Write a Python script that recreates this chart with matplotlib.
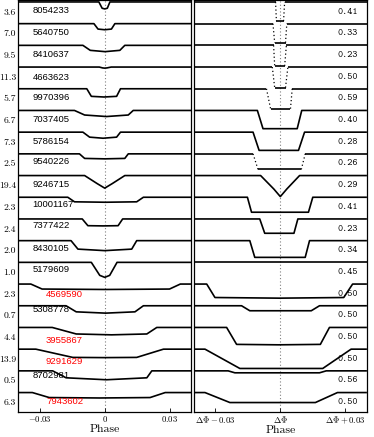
import matplotlib.pyplot as plt

plt.rcParams['mathtext.fontset'] = 'cm'

# KIC ids, orbital periods (d) and secondary eclipse phase
kic = ['8054233', '5640750', '8410637', '4663623', '9970396', '7037405', '5786154',
       '9540226', '9246715', '10001167', '7377422', '8430105', '5179609', '4569590',
       '5308778', '3955867', '9291629', '8702981', '7943602']
period = ['3.6', '7.0', '9.5', '11.3', '5.7', '6.7', '7.3', '2.5', '19.4', '2.3',
          '2.4', '2.0', '1.0', '2.3', '0.7', '4.4', '13.9', '0.5', '6.3']
sec_phase = ['0.41', '0.33', '0.23', '0.50', '0.59', '0.40', '0.28', '0.26', '0.29', '0.41',
             '0.23', '0.34', '0.45', '0.50', '0.50', '0.50', '0.50', '0.56', '0.50']
highlight = ['4569590', '3955867', '9291629', '7943602']

# primary eclipse: contact points (phase) and depth (in units of row spacing)
p_t1 = [-0.0027, -0.0050, -0.0101, -0.0025, -0.0083, -0.0140, -0.0101, -0.0117, -0.0093, -0.0171,
        -0.0104, -0.0156, -0.0062, -0.0342, -0.0179, -0.0243, -0.0319, -0.0241, -0.0335]
p_t2 = [-0.0012, -0.0031, -0.0067, -0.0010, -0.0062, -0.0093, -0.0070, -0.0093, -0.0035, -0.0140,
        -0.0078, -0.0124, -0.0023, -0.0290, -0.0132, -0.0132, -0.0148, -0.0179, -0.0257]
p_t3 = [0.0012, 0.0031, 0.0070, 0.0010, 0.0055, 0.0109, 0.0055, 0.0093, 0.0035, 0.0148,
        0.0062, 0.0125, 0.0023, 0.0300, 0.0140, 0.0195, 0.0148, 0.0195, 0.0210]
p_t4 = [0.0024, 0.0047, 0.0093, 0.0030, 0.0073, 0.0132, 0.0073, 0.0109, 0.0093, 0.0179,
        0.0083, 0.0148, 0.0057, 0.0350, 0.0179, 0.0241, 0.0272, 0.0218, 0.0280]
p_d_edge = [0.29, 0.25, 0.23, 0.04, 0.35, 0.21, 0.23, 0.21, 0.37, 0.21,
            0.31, 0.39, 0.60, 0.23, 0.28, 0.30, 0.38, 0.32, 0.23]
p_d_mid = [0.32, 0.28, 0.29, 0.05, 0.38, 0.28, 0.28, 0.23, 0.58, 0.23,
           0.32, 0.46, 0.69, 0.25, 0.34, 0.34, 0.39, 0.41, 0.25]

# secondary eclipse, phase relative to the expected position
s_t1 = [-0.0022, -0.0034, -0.0031, -0.0037, -0.0064, -0.0106, -0.0126, -0.0126, -0.0091, -0.0152,
        -0.0095, -0.0141, 0.0, -0.0340, -0.0179, -0.0248, -0.0348, -0.0241, -0.0348]
s_t2 = [-0.0018, -0.0026, -0.0026, -0.0026, -0.0045, -0.0080, -0.0098, -0.0103, -0.0030, -0.0133,
        -0.0072, -0.0118, 0.0, -0.0302, -0.0141, -0.0202, -0.0187, -0.0210, -0.0233]
s_t3 = [0.0015, 0.0024, 0.0020, 0.0024, 0.0047, 0.0078, 0.0084, 0.0097, 0.0030, 0.0130,
        0.0063, 0.0115, 0.0, 0.0293, 0.0143, 0.0185, 0.0196, 0.0181, 0.0162]
s_t4 = [0.0020, 0.0030, 0.0028, 0.0035, 0.0055, 0.0099, 0.0112, 0.0115, 0.0089, 0.0150,
        0.0081, 0.0135, 0.0, 0.0334, 0.0181, 0.0227, 0.0327, 0.0212, 0.0264]
s_d_edge = [0.88, 0.88, 0.95, 0.95, 0.92, 0.84, 0.84, 0.72, 0.62, 0.69,
            0.66, 0.77, 0.0, 0.62, 0.23, 0.78, 0.89, 0.09, 0.46]
s_d_mid = [0.88, 0.88, 0.95, 0.95, 0.92, 0.84, 0.84, 0.72, 0.97, 0.69,
           0.66, 0.77, 0.0, 0.65, 0.23, 0.80, 0.89, 0.09, 0.46]
s_sparse = ['8054233', '5640750', '8410637', '4663623', '9970396', '9540226']

# layout: vertical offset of the KIC label under each curve
kic_dy = [-0.38, -0.43, -0.41, -0.46, -0.41, -0.43, -0.43, -0.35, -0.43, -0.32,
          -0.28, -0.38, -0.34, -0.46, -0.16, -0.58, -0.58, -0.20, -0.40]

XL = 0.04
n = len(kic)

fig = plt.figure(figsize=(3.74, 4.37), dpi=100)
axl = fig.add_axes([0.049, 0.058, 0.462, 0.942])
axr = fig.add_axes([0.518, 0.058, 0.463, 0.942])


def draw(ax, t1, t2, t3, t4, de, dm, base, sparse):
    mid = (t2 + t3) / 2
    kw = dict(color='black', lw=1.2, solid_capstyle='butt')
    if sparse:
        ax.plot([-XL, t1], [base, base], **kw)
        ax.plot([t4, XL], [base, base], **kw)
        ax.plot([t2, mid, t3], [base - de, base - dm, base - de], **kw)
        ax.plot([t1, t2], [base, base - de], color='black', lw=0.9, ls=(0, (1, 2)))
        ax.plot([t3, t4], [base - de, base], color='black', lw=0.9, ls=(0, (1, 2)))
    else:
        ax.plot([-XL, t1, t2, mid, t3, t4, XL],
                [base, base, base - de, base - dm, base - de, base, base], **kw)


for i in range(n):
    base = -i
    draw(axl, p_t1[i], p_t2[i], p_t3[i], p_t4[i], p_d_edge[i], p_d_mid[i], base, False)
    draw(axr, s_t1[i], s_t2[i], s_t3[i], s_t4[i], s_d_edge[i], s_d_mid[i], base,
         kic[i] in s_sparse)

    red = kic[i] in highlight
    axl.text(-0.0272 if red else -0.0335, base + kic_dy[i], kic[i],
             color='red' if red else 'black', fontsize=6.8, family='Liberation Sans',
             ha='left', va='center')
    axl.text(-0.013, base - 0.48, period[i], transform=axl.get_yaxis_transform(),
             fontsize=7, family='cmr10', ha='right', va='center')
    axr.text(0.948, base - 0.44, sec_phase[i], transform=axr.get_yaxis_transform(),
             fontsize=7, family='cmtt10', ha='right', va='center')

for ax in (axl, axr):
    ax.axvline(0, color='gray', lw=0.8, ls=(0, (1, 2)), zorder=0)
    ax.set_xlim(-XL, XL)
    ax.set_ylim(-18.88, 0.09)
    ax.set_yticks([])
    ax.tick_params(axis='x', direction='in', length=3, width=0.6, pad=2)
    ax.set_xticks([-0.03, 0, 0.03])
    ax.set_xlabel('Phase', family='cmr10', fontsize=8.5, labelpad=0)
    for s in ax.spines.values():
        s.set_linewidth(0.9)

axl.set_xticklabels([r'$-0.03$', r'$0$', r'$0.03$'], fontsize=6.3)
axr.set_xticklabels([r'$\Delta\Phi-0.03$', r'$\Delta\Phi$', r'$\Delta\Phi+0.03$'], fontsize=6.3)

fig.savefig('out.png', dpi=100)
